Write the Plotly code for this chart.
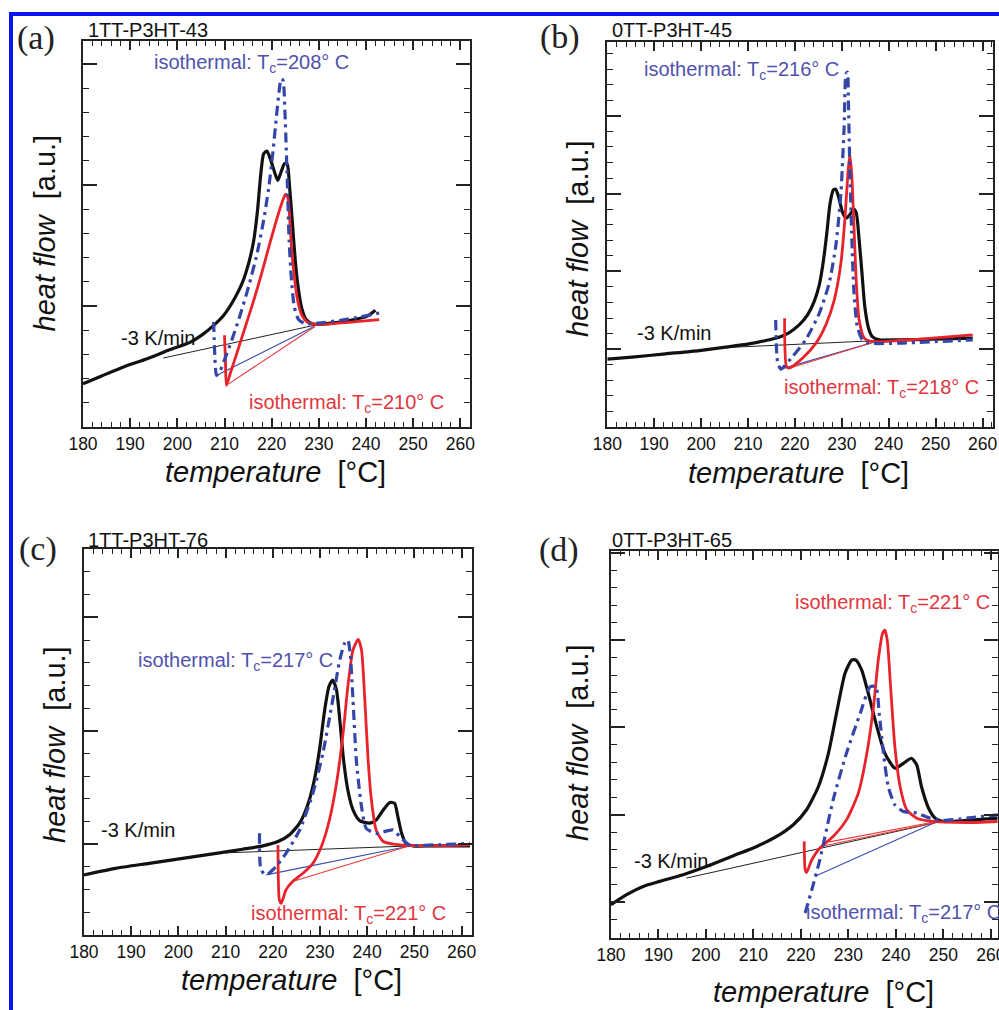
import plotly.graph_objects as go

W, H = 999, 1010

# ---------------- data (arbitrary heat-flow units) ----------------
# Panel (a) 1TT-P3HT-43
a_black_x = [180.0,183.7,188.6,193.6,198.5,202.8,205.6,207.7,209.8,211.9,213.7,215.1,216.2,217.0,217.7,218.3,219.0,219.7,220.6,221.3,222.0,222.7,223.3,223.8,224.3,225.0,225.7,226.4,227.3,228.6,230.3,233.1,236.7,240.2,242.0]
a_black_y = [1.79,2.09,2.48,2.82,3.2,3.51,3.86,4.2,4.61,5.23,5.92,6.75,7.71,8.95,10.47,11.29,11.4,11.09,10.54,10.19,10.54,10.88,10.85,9.92,8.68,6.89,5.65,4.89,4.44,4.27,4.24,4.3,4.41,4.57,4.82]
a_blue_x = [207.7,207.9,208.3,209.1,210.5,211.9,213.4,215.1,216.9,218.3,219.4,220.3,221.0,221.6,222.0,222.4,222.8,223.1,223.4,223.7,224.2,224.8,225.7,227.1,230.3,234.6,238.8,242.8]
a_blue_y = [4.34,3.17,2.13,2.34,3.03,3.79,4.68,5.79,7.16,8.54,9.92,11.43,12.81,13.91,14.39,14.33,13.09,11.43,9.64,7.71,6.06,4.96,4.44,4.27,4.3,4.41,4.55,4.71]
a_red_x = [210.0,210.2,210.4,211.2,212.7,214.4,216.2,217.95,219.4,220.8,222.0,222.9,223.4,223.8,224.2,224.8,225.5,226.4,227.5,229.6,233.1,237.4,242.8]
a_red_y = [3.79,2.75,1.72,2.2,3.1,4.13,5.23,6.4,7.44,8.4,9.16,9.61,9.5,8.68,7.44,6.2,5.23,4.61,4.34,4.24,4.27,4.34,4.44]
a_base_black = ([197.0, 229.0], [2.85, 4.2])
a_base_blue = ([208.3, 229.0], [2.13, 4.15])
a_base_red = ([210.4, 229.2], [1.72, 4.15])

# Panel (b) 0TT-P3HT-45
b_black_x = [180.0,185.3,192.4,199.6,205.2,210.2,213.8,216.6,218.8,220.9,222.7,224.1,225.2,226.0,226.8,227.5,228.2,228.7,229.3,230.1,230.9,231.7,232.6,233.1,233.7,234.3,234.9,235.7,236.5,238.0,242.2,249.3,257.9]
b_black_y = [4.36,4.49,4.7,4.91,5.13,5.34,5.56,5.77,6.07,6.56,7.21,8.06,9.13,10.52,12.45,14.38,15.24,15.28,14.81,13.84,13.42,13.63,13.99,13.74,12.02,9.88,7.74,6.35,5.81,5.6,5.6,5.64,5.71]
b_blue_x = [215.9,216.3,217.0,219.5,222.3,225.2,227.3,228.7,229.8,230.5,230.9,231.2,231.4,231.7,232.1,232.6,233.3,234.4,235.8,242.2,257.9]
b_blue_y = [6.88,4.21,3.72,4.53,5.6,7.31,9.24,11.6,15.0,19.3,22.7,22.8,21.0,16.7,12.45,8.6,6.46,5.6,5.39,5.39,5.6]
b_red_x = [217.8,218.2,218.8,221.6,224.5,226.6,228.4,229.8,230.7,231.3,231.7,232.1,232.6,233.1,233.7,234.8,236.5,242.2,249.3,257.9]
b_red_y = [6.99,3.89,3.78,4.42,5.39,6.56,8.17,10.52,13.52,16.3,17.48,16.3,12.88,9.24,6.88,5.71,5.49,5.56,5.71,5.92]
b_base_black = ([205.0, 237.5], [5.1, 5.55])
b_base_blue = ([217.0, 237.3], [3.72, 5.49])
b_base_red = ([218.8, 237.3], [3.78, 5.49])

# Panel (c) 1TT-P3HT-76
c_black_x = [180.0,186.7,193.8,200.9,208.0,213.6,217.9,221.1,223.5,225.7,227.4,228.8,229.9,231.0,231.9,232.7,233.5,234.2,235.0,235.9,237.0,238.4,240.5,241.9,243.4,244.8,245.8,246.5,247.3,248.2,249.7,254.0,261.8]
c_black_y = [3.65,3.94,4.16,4.38,4.6,4.78,4.93,5.12,5.41,5.93,6.73,7.83,9.16,10.92,11.95,12.24,11.8,10.48,8.72,7.39,6.51,6.04,5.93,6.07,6.51,6.84,6.81,6.22,5.48,5.04,4.93,4.93,4.93]
c_blue_x = [217.2,217.5,218.6,220.7,222.8,225.7,228.5,230.6,232.7,234.2,235.2,235.9,236.4,237.0,237.7,238.8,239.8,241.9,245.5,246.9,249.0,254.0,261.8]
c_blue_y = [5.48,3.87,3.65,4.02,4.6,5.63,7.25,9.0,11.36,13.12,13.85,14.0,13.41,11.36,8.72,6.66,5.7,5.48,5.63,5.34,4.97,4.97,5.04]
c_red_x = [221.1,221.4,221.8,222.8,224.2,226.4,228.5,230.3,232.0,233.5,234.9,235.9,237.0,238.1,238.8,239.5,240.2,240.9,241.9,243.4,246.9,254.0,261.8]
c_red_y = [4.97,2.55,2.4,2.99,3.36,3.72,4.16,4.9,6.07,7.69,9.89,11.95,13.56,14.03,13.56,11.36,8.72,6.95,5.63,5.12,4.97,4.93,4.97]
c_base_black = ([210.0, 248.5], [4.62, 4.92])
c_base_blue = ([218.6, 248.5], [3.65, 4.9])
c_base_red = ([224.2, 248.5], [3.36, 4.9])

# Panel (d) 0TT-P3HT-65
d_black_x = [180.0,183.3,186.8,190.3,195.2,200.2,205.8,210.7,214.9,218.4,221.2,223.7,225.8,227.5,229.3,230.7,231.6,232.8,234.2,236.0,237.7,239.8,241.6,243.3,244.4,245.4,246.9,248.3,250.0,254.9,261.6]
d_black_y = [-0.14,0.43,0.9,1.19,1.57,2.05,2.66,3.19,3.76,4.43,5.29,6.62,8.52,10.81,13.1,13.86,13.86,13.29,11.95,10.05,8.52,7.67,7.95,8.24,7.86,6.62,5.38,4.81,4.62,4.68,4.81]
d_blue_x = [220.9,222.3,224.0,226.8,229.6,232.5,234.6,235.8,236.5,237.4,238.4,239.8,241.6,244.4,247.2,250.0,254.9,261.6]
d_blue_y = [-0.62,0.71,2.43,5.86,8.52,10.81,12.33,12.33,10.81,8.52,6.62,5.57,5.19,5.1,4.81,4.68,4.81,5.0]
d_red_x = [220.7,220.9,221.2,222.3,224.0,226.8,229.6,232.1,233.9,235.3,236.3,237.2,237.7,238.2,238.9,239.8,240.9,242.3,244.4,247.9,254.9,261.6]
d_red_y = [3.48,1.86,1.7,2.43,3.1,3.76,4.71,6.24,8.52,11.19,13.86,15.38,15.57,15.0,12.33,8.9,6.62,5.29,4.81,4.62,4.56,4.62]
d_base_black = ([195.9, 248.6], [1.38, 4.56])
d_base_blue = ([223.0, 248.3], [1.48, 4.56])
d_base_red = ([224.5, 248.3], [3.2, 4.56])
d_base_red2 = ([226.0, 248.3], [3.45, 4.6])

x_tick_vals = [180, 190, 200, 210, 220, 230, 240, 250, 260]
x_tick_text = ["180", "190", "200", "210", "220", "230", "240", "250", "260"]

panel_letters = ["(a)", "(b)", "(c)", "(d)"]
sample_names = ["1TT-P3HT-43", "0TT-P3HT-45", "1TT-P3HT-76", "0TT-P3HT-65"]
rate_label = "-3 K/min"
blue_labels = ["isothermal: T<sub>c</sub>=208° C", "isothermal: T<sub>c</sub>=216° C",
               "isothermal: T<sub>c</sub>=217° C", "isothermal: T<sub>c</sub>=217° C"]
red_labels = ["isothermal: T<sub>c</sub>=210° C", "isothermal: T<sub>c</sub>=218° C",
              "isothermal: T<sub>c</sub>=221° C", "isothermal: T<sub>c</sub>=221° C"]

# ---------------- layout geometry (pixels) ----------------
# frame: left, right, top, bottom
frames = [(83, 470, 41, 427), (607.3, 993.3, 41.7, 427), (84, 471.7, 549.3, 935), (611, 997.5, 551, 938)]
x_ranges = [[180, 262.05], [180, 262.3], [180, 262.15], [180, 261.42]]
y_ranges = [[0, 15.95], [0, 24.76], [1.0, 18.0], [-2.05, 20.1]]

# label positions in data coordinates (left anchored, vertically centred)
blue_pos = [(194.6, 15.0), (187.5, 22.9), (191.0, 13.05), (220.7, -0.62)]
red_pos = [(214.8, 0.96), (217.2, 2.5), (214.9, 1.89), (218.3, 17.1)]
rate_pos = [(187.6, 3.69), (186.0, 6.03), (183.2, 5.63), (184.4, 2.33)]

# titles & letters in pixels
xtitle_pos = [(275.5, 471.7), (798.5, 473), (291.7, 980), (823.3, 991.7)]
ytitle_pos = [(45, 233.5), (577.5, 238.5), (55, 745), (577.5, 742.5)]
letter_pos = [(36, 38), (560, 37), (38, 549), (559, 550)]
name_pos = [(86, 30), (610, 30), (86, 540), (610, 540)]

BLACK = "#111111"
BLUE = "#3446a8"
RED = "#e8232b"
BLUE_TXT = "#4f52ad"
RED_TXT = "#e2363e"
FONT = "Liberation Sans, Arial, sans-serif"

panels = [
    (a_black_x, a_black_y, a_blue_x, a_blue_y, a_red_x, a_red_y, [a_base_black], [a_base_blue], [a_base_red]),
    (b_black_x, b_black_y, b_blue_x, b_blue_y, b_red_x, b_red_y, [b_base_black], [b_base_blue], [b_base_red]),
    (c_black_x, c_black_y, c_blue_x, c_blue_y, c_red_x, c_red_y, [c_base_black], [c_base_blue], [c_base_red]),
    (d_black_x, d_black_y, d_blue_x, d_blue_y, d_red_x, d_red_y, [d_base_black], [d_base_blue], [d_base_red, d_base_red2]),
]

fig = go.Figure()
annotations = []
layout_axes = {}

def px2paper_x(px):
    return px / W

def px2paper_y(py):
    return 1 - py / H

for i, (bx, by, ux, uy, rx, ry, bb, ub, rb) in enumerate(panels):
    n = "" if i == 0 else str(i + 1)
    xa, ya = "x" + n, "y" + n
    # thin baselines
    for (lx, ly) in bb:
        fig.add_trace(go.Scatter(x=lx, y=ly, mode="lines", line=dict(color="#222222", width=1),
                                 xaxis=xa, yaxis=ya, showlegend=False, hoverinfo="skip"))
    for (lx, ly) in ub:
        fig.add_trace(go.Scatter(x=lx, y=ly, mode="lines", line=dict(color="#3a4cb0", width=1.1),
                                 xaxis=xa, yaxis=ya, showlegend=False, hoverinfo="skip"))
    for (lx, ly) in rb:
        fig.add_trace(go.Scatter(x=lx, y=ly, mode="lines", line=dict(color="#e53a3a", width=1.1),
                                 xaxis=xa, yaxis=ya, showlegend=False, hoverinfo="skip"))
    # main curves
    fig.add_trace(go.Scatter(x=bx, y=by, mode="lines",
                             line=dict(color=BLACK, width=3.2, shape="spline", smoothing=0.6),
                             xaxis=xa, yaxis=ya, showlegend=False))
    fig.add_trace(go.Scatter(x=rx, y=ry, mode="lines",
                             line=dict(color=RED, width=2.8, shape="spline", smoothing=0.6),
                             xaxis=xa, yaxis=ya, showlegend=False))
    fig.add_trace(go.Scatter(x=ux, y=uy, mode="lines",
                             line=dict(color=BLUE, width=3.2, shape="spline", smoothing=0.6,
                                       dash="10px,5px,3px,5px"),
                             xaxis=xa, yaxis=ya, showlegend=False))

    l, r, t, b = frames[i]
    axis_common = dict(showline=True, linecolor="#222222", linewidth=2, mirror="allticks",
                       ticks="inside", showgrid=False, zeroline=False, automargin=False,
                       tickcolor="#222222")
    layout_axes["xaxis" + n] = dict(
        axis_common, domain=[px2paper_x(l), min(1.0, px2paper_x(r))], range=x_ranges[i],
        anchor=ya, tickmode="array", tickvals=x_tick_vals, ticktext=x_tick_text,
        ticklen=9, tickwidth=1.5, ticklabeloverflow="allow",
        minor=dict(dtick=2, tick0=180, ticklen=5, tickwidth=1.2, ticks="inside", tickcolor="#222222"),
        tickfont=dict(family=FONT, size=17.5, color="#111111"))
    layout_axes["yaxis" + n] = dict(
        axis_common, domain=[px2paper_y(b), px2paper_y(t)], range=y_ranges[i],
        anchor=xa, showticklabels=False, dtick=5, tick0=0, ticklen=14, tickwidth=1.5,
        minor=dict(dtick=1, tick0=0, ticklen=6, tickwidth=1.2, ticks="inside", tickcolor="#222222"))

    # in-plot labels
    annotations.append(dict(text=blue_labels[i], x=blue_pos[i][0], y=blue_pos[i][1], xref=xa, yref=ya,
                            xanchor="left", yanchor="middle", showarrow=False,
                            font=dict(family=FONT, size=20, color=BLUE_TXT)))
    annotations.append(dict(text=red_labels[i], x=red_pos[i][0], y=red_pos[i][1], xref=xa, yref=ya,
                            xanchor="left", yanchor="middle", showarrow=False,
                            font=dict(family=FONT, size=20, color=RED_TXT)))
    annotations.append(dict(text=rate_label, x=rate_pos[i][0], y=rate_pos[i][1], xref=xa, yref=ya,
                            xanchor="left", yanchor="middle", showarrow=False,
                            font=dict(family=FONT, size=20, color="#111111")))
    # axis titles
    annotations.append(dict(text="<i>temperature</i>\u00a0\u00a0[°C]", x=px2paper_x(xtitle_pos[i][0]),
                            y=px2paper_y(xtitle_pos[i][1]), xref="paper", yref="paper",
                            xanchor="center", yanchor="middle", showarrow=False,
                            font=dict(family=FONT, size=29, color="#111111")))
    annotations.append(dict(text="<i>heat flow</i>\u00a0\u00a0[a.u.]", x=px2paper_x(ytitle_pos[i][0]),
                            y=px2paper_y(ytitle_pos[i][1]), xref="paper", yref="paper", textangle=-90,
                            xanchor="center", yanchor="middle", showarrow=False,
                            font=dict(family=FONT, size=29, color="#111111")))
    annotations.append(dict(text=panel_letters[i], x=px2paper_x(letter_pos[i][0]),
                            y=px2paper_y(letter_pos[i][1]), xref="paper", yref="paper",
                            xanchor="center", yanchor="middle", showarrow=False,
                            font=dict(family="Liberation Serif, Times New Roman, serif", size=34, color="#222222")))
    annotations.append(dict(text=sample_names[i], x=px2paper_x(name_pos[i][0]),
                            y=px2paper_y(name_pos[i][1]), xref="paper", yref="paper",
                            xanchor="left", yanchor="middle", showarrow=False,
                            font=dict(family=FONT, size=20, color="#111111")))

shapes = [
    dict(type="line", xref="paper", yref="paper", x0=px2paper_x(9), x1=1.0,
         y0=px2paper_y(14), y1=px2paper_y(14), line=dict(color="#0a14f0", width=4)),
    dict(type="line", xref="paper", yref="paper", x0=px2paper_x(11), x1=px2paper_x(11),
         y0=px2paper_y(12), y1=0.0, line=dict(color="#0a14f0", width=4)),
]

fig.update_layout(width=W, height=H, margin=dict(l=0, r=0, t=0, b=0),
                  paper_bgcolor="white", plot_bgcolor="white",
                  annotations=annotations, shapes=shapes, **layout_axes)

fig.write_html("out.html", config={"displayModeBar": False},
               post_script="document.body.style.margin='0';document.body.style.overflow='hidden';")
